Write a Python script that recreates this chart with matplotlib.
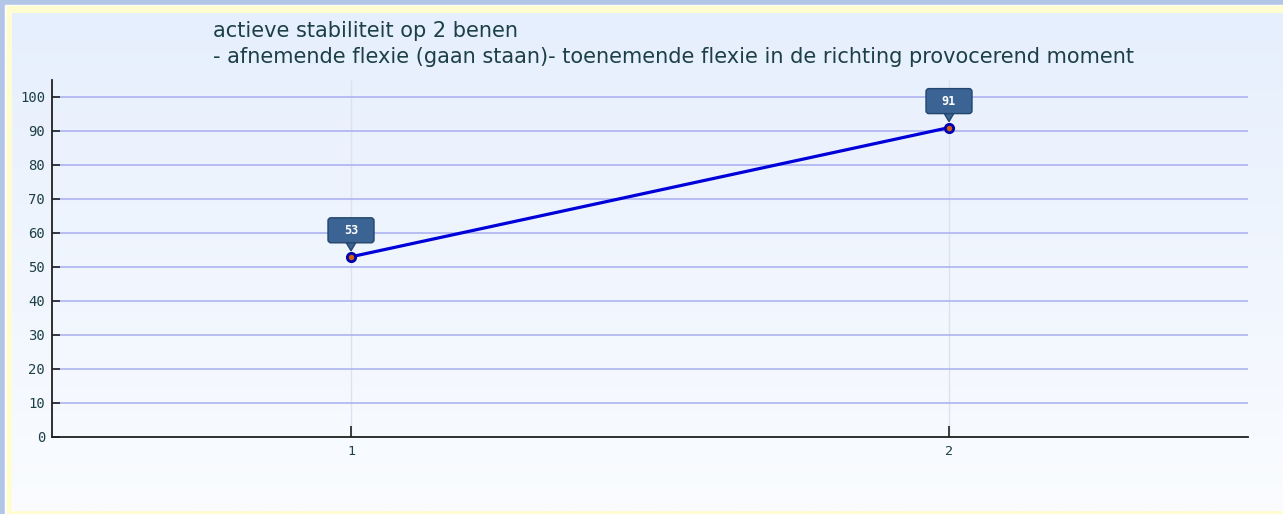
import matplotlib
matplotlib.use("Agg")
import matplotlib.pyplot as plt
import numpy as np
from matplotlib.patches import Rectangle, FancyBboxPatch, Polygon
from matplotlib.transforms import Affine2D, ScaledTranslation

categories = [1, 2]
values = [53, 91]
yticks = [0, 10, 20, 30, 40, 50, 60, 70, 80, 90, 100]
title_lines = ["actieve stabiliteit op 2 benen",
               "- afnemende flexie (gaan staan)- toenemende flexie in de richting provocerend moment"]

W, H = 1283, 514
fig = plt.figure(figsize=(W / 100, H / 100), dpi=100)

# background
bg = fig.add_axes([0, 0, 1, 1], zorder=-10)
bg.axis("off")
bg.add_patch(Rectangle((0, 0), W, H, color="#b4c6e8", zorder=0))
bg.add_patch(Rectangle((5, 5), W - 5, H - 5, color="#ffffff", zorder=0.1))
bg.add_patch(Rectangle((7, 6), W - 7, H - 6, color="#fffdd0", zorder=0.2))
grad = np.linspace(0, 1, 256)
c0 = np.array([0xe6, 0xef, 0xfd]) / 255
c1 = np.array([0xfa, 0xfc, 0xff]) / 255
img = (c0[None, :] + (c1 - c0)[None, :] * grad[:, None]).reshape(256, 1, 3)
bg.imshow(img, extent=[12, W, H - 3, 13], aspect="auto", interpolation="bilinear",
          origin="upper", zorder=1)
bg.set_xlim(0, W)
bg.set_ylim(H, 0)

# main axes: x 52..1248, y top 80 .. bottom 437
x0, x1, yt, yb = 52, 1248, 80, 437
ax = fig.add_axes([x0 / W, 1 - yb / H, (x1 - x0) / W, (yb - yt) / H])
ax.patch.set_alpha(0)
ax.set_xlim(0.5, 2.5)
ax.set_ylim(0, (yb - yt) / 3.4)

tc = "#1d3f46"
ax.set_yticks(yticks)
ax.set_xticks(categories)
ax.set_xticklabels([str(c) for c in categories])
for s in ["top", "right"]:
    ax.spines[s].set_visible(False)
for s in ["left", "bottom"]:
    ax.spines[s].set_color("#202020")
    ax.spines[s].set_linewidth(1.3)
ax.tick_params(axis="y", direction="in", length=6, width=1.2, color="#202020",
               labelsize=10, labelcolor=tc, pad=5)
ax.tick_params(axis="x", direction="in", length=8, width=1.2, color="#202020",
               labelsize=9.5, labelcolor=tc, pad=6)
for lab in ax.get_yticklabels() + ax.get_xticklabels():
    lab.set_family("DejaVu Sans Mono")

for y in yticks[1:]:
    ax.axhline(y, color="#a8aef0", lw=1.1, zorder=1)
for c in categories:
    ax.axvline(c, color="#dde2ee", lw=1, zorder=0.5)

ax.plot(categories, values, color="#0000d8", lw=2.3, zorder=3, solid_capstyle="round")
ax.plot(categories, values, "o", ms=6, mfc="#d06010", mec="#0000b0", mew=2.0, zorder=4)

# value labels (pixel offsets relative to the data point)
for c, v in zip(categories, values):
    tr = Affine2D() + ScaledTranslation(c, v, ax.transData)
    box = FancyBboxPatch((-23, 14), 46, 25, boxstyle="round,pad=0,rounding_size=3",
                         fc="#3b6393", ec="#23466e", lw=1, transform=tr, zorder=5,
                         clip_on=False)
    ax.add_patch(box)
    tri = Polygon([(-5, 14.5), (5, 14.5), (0, 6)], closed=True, fc="#3b6393",
                  ec="#23466e", lw=1, transform=tr, zorder=4.9, clip_on=False)
    ax.add_patch(tri)
    ax.text(0, 26.5, str(v), transform=tr, ha="center", va="center", fontsize=8.5,
            fontweight="bold", color="white", family="DejaVu Sans Mono", zorder=6)

fig.text(213 / W, 1 - 31 / H, title_lines[0], fontsize=15, color=tc, va="center", ha="left")
fig.text(213 / W, 1 - 57 / H, title_lines[1], fontsize=15, color=tc, va="center", ha="left")

fig.savefig("out.png", dpi=100)
